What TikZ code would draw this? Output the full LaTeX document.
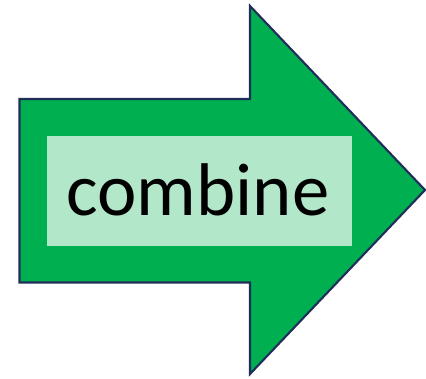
\documentclass[tikz,border=0pt]{standalone}
\usepackage{fontspec}
\setmainfont{Carlito}
\definecolor{arrowgreen}{HTML}{00B050}
\definecolor{labelgreen}{HTML}{B2E7CA}
\definecolor{outline}{HTML}{1F2F5A}
\begin{document}
\begin{tikzpicture}[x=0.75pt,y=-0.75pt,
  arrowbody/.style={fill=arrowgreen,draw=outline,line width=1.6pt,line join=miter},
  labelbox/.style={fill=labelgreen,draw=none,inner sep=0pt,minimum width=229pt,minimum height=82.5pt},
  labeltext/.style={inner sep=0pt,anchor=base,font=\fontsize{56}{60}\selectfont}]
\useasboundingbox (0,0) rectangle (426,379);
% block arrow
\draw[arrowbody] (19.5,99) -- (250,99) -- (250,6) -- (425,190) -- (250,374) -- (250,282.5) -- (19.5,282.5) -- cycle;
% label panel and its word
\node[labelbox] (lbl) at (199.5,191) {};
\node[labeltext] (word) at (198,215) {combine};
\end{tikzpicture}
\end{document}
